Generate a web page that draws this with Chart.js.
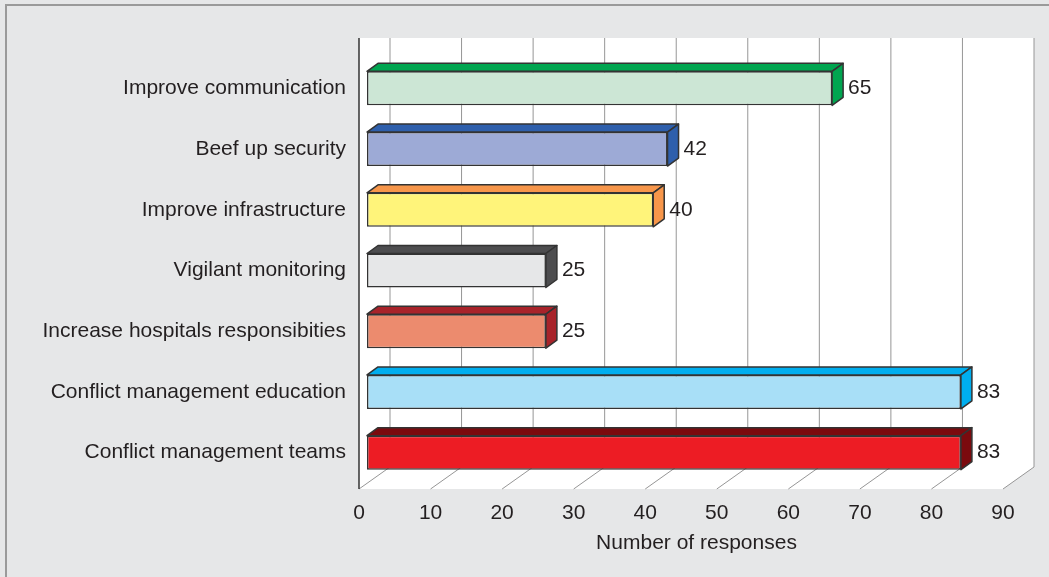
<!DOCTYPE html>
<html>
<head>
<meta charset="utf-8">
<script src="https://cdn.jsdelivr.net/npm/chart.js@4/dist/chart.umd.min.js"></script>
<style>
  html, body { margin: 0; padding: 0; background: #e6e7e8; }
  #wrap { width: 1049px; height: 577px; }
</style>
</head>
<body>
<div id="wrap"><canvas id="myBarChart" width="1049" height="577"></canvas></div>
<script>
const categories = [
    'Improve communication',
    'Beef up security',
    'Improve infrastructure',
    'Vigilant monitoring',
    'Increase hospitals responsibities',
    'Conflict management education',
    'Conflict management teams'
];
const responses = [65, 42, 40, 25, 25, 83, 83];
const xTicks = [0, 10, 20, 30, 40, 50, 60, 70, 80, 90];
const xTitle = 'Number of responses';

// front face / top+side face
const frontColors = ['#cce6d5', '#9daad6', '#fff47a', '#e6e7e8', '#ec8b6e', '#a8dff7', '#ed1c24'];
const sideColors  = ['#00a550', '#2e5fac', '#f7964a', '#4d4d4f', '#a8232a', '#00aeef', '#7b0a0e'];

const FONT = "'Liberation Sans', Arial, sans-serif";
const TEXT = '#231f20';
const DEPTH = { x: 31, y: -22 };   // whole floor depth
const SHIFT = { x: 8, y: -6 };     // where bars sit inside the depth
const BAR_D = { x: 11, y: -8 };    // bar thickness

const box3d = {
    id: 'box3d',
    beforeDraw(chart) {
        const c = chart.ctx;
        c.save();
        c.fillStyle = '#e6e7e8';
        c.fillRect(0, 0, chart.width, chart.height);
        c.strokeStyle = '#9a9a9a';
        c.lineWidth = 2;
        c.beginPath();
        c.moveTo(6, chart.height);
        c.lineTo(6, 5);
        c.lineTo(chart.width, 5);
        c.stroke();
        c.restore();
    },
    beforeDatasetsDraw(chart) {
        const c = chart.ctx;
        const a = chart.chartArea;
        const xs = chart.scales.x;
        const top = a.top - 26;
        const x90 = xs.getPixelForValue(90);

        c.save();
        c.fillStyle = '#ffffff';
        c.beginPath();
        c.moveTo(a.left, top);
        c.lineTo(x90 + DEPTH.x, top);
        c.lineTo(x90 + DEPTH.x, a.bottom + DEPTH.y);
        c.lineTo(x90, a.bottom);
        c.lineTo(a.left, a.bottom);
        c.closePath();
        c.fill();

        c.strokeStyle = '#969696';
        c.lineWidth = 1;
        xTicks.forEach(v => {
            const px = xs.getPixelForValue(v);
            c.beginPath();
            c.moveTo(px, a.bottom);
            c.lineTo(px + DEPTH.x, a.bottom + DEPTH.y);
            c.lineTo(px + DEPTH.x, top);
            c.stroke();
        });

        c.strokeStyle = '#333333';
        c.lineWidth = 1.5;
        c.beginPath();
        c.moveTo(a.left, top);
        c.lineTo(a.left, a.bottom);
        c.stroke();

        // axis title, centred under the floor like the original
        c.fillStyle = TEXT;
        c.font = '21px ' + FONT;
        c.textAlign = 'center';
        c.textBaseline = 'middle';
        c.fillText(xTitle, (a.left + x90 + DEPTH.x) / 2, 543);
        c.restore();

        c.save();
        c.translate(SHIFT.x, SHIFT.y);
    },
    afterDatasetsDraw(chart) {
        const c = chart.ctx;
        c.restore();
        const meta = chart.getDatasetMeta(0);
        c.save();
        c.translate(SHIFT.x, SHIFT.y);
        c.lineWidth = 1.5;
        c.strokeStyle = '#333333';
        c.lineJoin = 'round';
        meta.data.forEach((bar, i) => {
            const p = bar.getProps(['x', 'y', 'base', 'height'], true);
            const t = p.y - p.height / 2;
            const b = p.y + p.height / 2;
            c.fillStyle = sideColors[i];
            // top face
            c.beginPath();
            c.moveTo(p.base, t);
            c.lineTo(p.base + BAR_D.x, t + BAR_D.y);
            c.lineTo(p.x + BAR_D.x, t + BAR_D.y);
            c.lineTo(p.x, t);
            c.closePath();
            c.fill();
            c.stroke();
            // side face
            c.beginPath();
            c.moveTo(p.x, t);
            c.lineTo(p.x + BAR_D.x, t + BAR_D.y);
            c.lineTo(p.x + BAR_D.x, b + BAR_D.y);
            c.lineTo(p.x, b);
            c.closePath();
            c.fill();
            c.stroke();
            // value
            c.fillStyle = TEXT;
            c.font = '21px ' + FONT;
            c.textAlign = 'left';
            c.textBaseline = 'middle';
            c.fillText(String(responses[i]), p.x + 16, p.y);
        });
        c.restore();
    }
};

const ctx = document.getElementById('myBarChart').getContext('2d');
const myBarChart = new Chart(ctx, {
    type: 'bar',
    data: {
        labels: categories,
        datasets: [{
            data: responses,
            backgroundColor: frontColors,
            borderColor: '#333333',
            borderWidth: 1.5,
            borderSkipped: false,
            categoryPercentage: 0.56,
            barPercentage: 1
        }]
    },
    options: {
        indexAxis: 'y',
        responsive: false,
        animation: false,
        devicePixelRatio: 1,
        layout: { padding: { top: 64, right: 46, left: 0, bottom: 0 } },
        plugins: {
            legend: { display: false },
            tooltip: { enabled: false }
        },
        scales: {
            x: {
                min: 0,
                max: 90,
                grid: { display: false, drawTicks: false },
                border: { display: false },
                ticks: {
                    stepSize: 10,
                    padding: 12,
                    color: TEXT,
                    font: { family: FONT, size: 21 }
                },
                afterFit: s => { s.height = 88; }
            },
            y: {
                grid: { display: false, drawTicks: false },
                border: { display: false },
                ticks: {
                    padding: 13,
                    labelOffset: -6,
                    color: TEXT,
                    font: { family: FONT, size: 21 }
                },
                afterFit: s => { s.width = 359; }
            }
        }
    },
    plugins: [box3d]
});
</script>
</body>
</html>
